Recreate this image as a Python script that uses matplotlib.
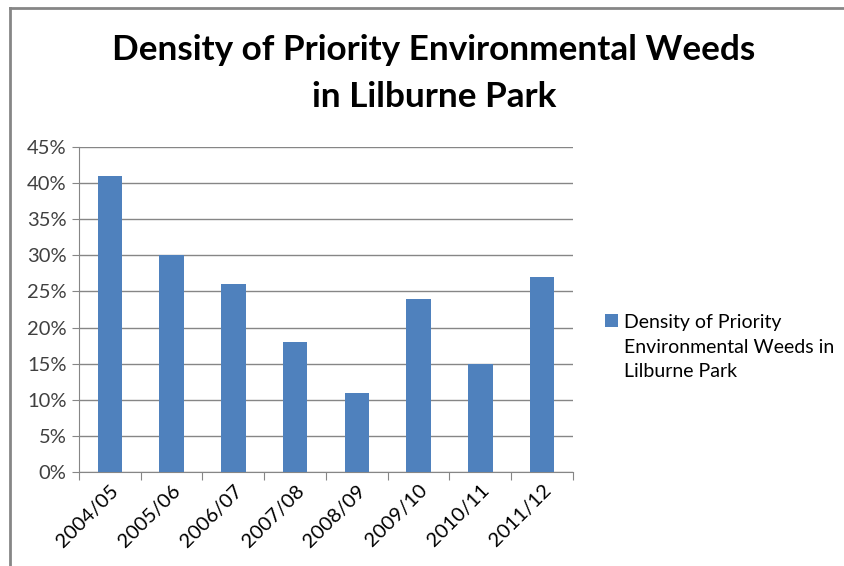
import matplotlib
matplotlib.use("Agg")
import matplotlib.pyplot as plt
from matplotlib.lines import Line2D
from matplotlib.ticker import PercentFormatter, MultipleLocator

# data
years = ["2004/05", "2005/06", "2006/07", "2007/08", "2008/09", "2009/10", "2010/11", "2011/12"]
density = [41, 30, 26, 18, 11, 24, 15, 27]
series_name = "Density of Priority\nEnvironmental Weeds in\nLilburne Park"

plt.rcParams['font.family'] = ['Lato', 'DejaVu Sans']

W, H = 845, 566
fig = plt.figure(figsize=(W / 100, H / 100), dpi=100)
ax = fig.add_axes([79 / W, 1 - 472 / H, (573 - 79) / W, (472 - 147) / H])

x = list(range(len(years)))
bars = ax.bar(x, density, width=0.4, color="#4f81bd", label=series_name, zorder=3)

ax.set_xlim(-0.5, len(years) - 0.5)
ax.set_ylim(0, 45)
ax.yaxis.set_major_locator(MultipleLocator(5))
ax.yaxis.set_major_formatter(PercentFormatter(decimals=0))
ax.grid(axis='y', color="#868686", linewidth=1, zorder=0)

# category boundary ticks on x
ax.set_xticks([i - 0.5 for i in range(len(years) + 1)], minor=False)
ax.set_xticklabels([])
ax.set_xticks(x, minor=True)
ax.set_xticklabels(years, minor=True, rotation=45, ha='right', rotation_mode='anchor',
                   fontsize=14.5, color="#000000")
ax.tick_params(axis='x', which='minor', length=0, pad=7)
ax.tick_params(axis='x', which='major', length=6, color="#868686", direction='out')
ax.tick_params(axis='y', length=5, color="#868686", labelsize=14.5, labelcolor="#404040", pad=4)

for s in ['top', 'right']:
    ax.spines[s].set_visible(False)
for s in ['left', 'bottom']:
    ax.spines[s].set_color("#868686")

fig.text(434 / W, 1 - 50 / H, "Density of Priority Environmental Weeds",
         ha='center', va='center', fontsize=25.3, fontweight='bold')
fig.text(434 / W, 1 - 97 / H, "in Lilburne Park",
         ha='center', va='center', fontsize=25.3, fontweight='bold')

leg = fig.legend(handles=[bars], labels=[series_name], loc='center left',
                 bbox_to_anchor=(605 / W, 1 - 347 / H), frameon=False,
                 fontsize=14, handlelength=0.65, handleheight=0.65, handletextpad=0.35,
                 borderaxespad=0, borderpad=0)
for t in leg.get_texts():
    t.set_linespacing(1.55)
# put the colour square next to the first line, like Excel does
for col in leg._legend_handle_box.get_children():
    for item in col.get_children():
        item.align = 'top'

# outer chart border (top and left visible)
fig.add_artist(Line2D([10 / W, 1], [1 - 8 / H, 1 - 8 / H], color="#868686", linewidth=2))
fig.add_artist(Line2D([10 / W, 10 / W], [0, 1 - 8 / H], color="#868686", linewidth=2))

fig.savefig("out.png", dpi=100)
